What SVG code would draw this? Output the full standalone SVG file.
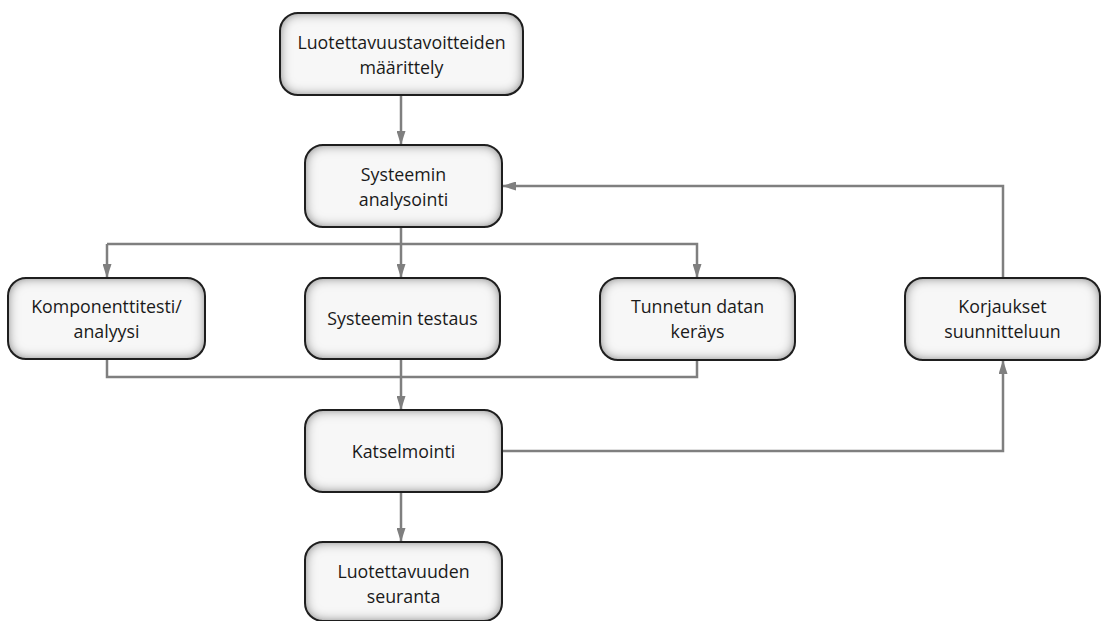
<svg xmlns="http://www.w3.org/2000/svg" width="1101" height="621" viewBox="0 0 1101 621">
  <style>
    .box { fill: #f7f7f7; filter: url(#inset); }
    .edge { fill: none; stroke: #1e1e1e; stroke-width: 2; }
    .label { font-family: "Open Sans", "Liberation Sans", sans-serif; font-size: 17.8px; fill: #1a1a1a; text-anchor: middle; }
    .conn { fill: none; stroke: #7f7f7f; stroke-width: 2.5; }
    .tip { marker-end: url(#arrow); }
  </style>
  <defs>
    <!-- soft inner shadow along the box edges -->
    <filter id="inset" x="-10%" y="-20%" width="120%" height="140%">
      <feFlood flood-color="#000" flood-opacity="1"/>
      <feComposite in2="SourceAlpha" operator="out"/>
      <feGaussianBlur stdDeviation="6"/>
      <feComposite in2="SourceAlpha" operator="in" result="shade"/>
      <feMerge>
        <feMergeNode in="SourceGraphic"/>
        <feMergeNode in="shade"/>
      </feMerge>
    </filter>
    <marker id="arrow" viewBox="0 0 14 9" refX="14" refY="4.5" markerWidth="14" markerHeight="9" markerUnits="userSpaceOnUse" orient="auto">
      <path d="M0,0 L14,4.5 L0,9 Z" fill="#7f7f7f"/>
    </marker>
  </defs>
  <rect width="1101" height="621" fill="#ffffff"/>

  <!-- connectors -->
  <g id="connectors">
    <path class="conn tip" d="M401,95 V145"/>
    <path class="conn" d="M401,227 V244"/>
    <path class="conn tip" d="M107,244 H697 V278"/>
    <path class="conn tip" d="M107,244 V278"/>
    <path class="conn tip" d="M401,244 V278"/>
    <path class="conn" d="M107,358 V377 H697 V358"/>
    <path class="conn tip" d="M401,358 V410"/>
    <path class="conn tip" d="M502,451 H1003 V360"/>
    <path class="conn tip" d="M1003,277 V186 H502"/>
    <path class="conn tip" d="M401,492 V542"/>
  </g>

  <g id="node-tavoitteet">
    <rect class="box" x="280" y="13" width="243" height="82" rx="18"/>
    <rect class="edge" x="280" y="13" width="243" height="82" rx="18"/>
    <text class="label" x="401.5" y="49">Luotettavuustavoitteiden</text>
    <text class="label" x="401.5" y="74">määrittely</text>
  </g>

  <g id="node-analysointi">
    <rect class="box" x="305" y="145" width="197" height="82" rx="18"/>
    <rect class="edge" x="305" y="145" width="197" height="82" rx="18"/>
    <text class="label" x="403.5" y="181">Systeemin</text>
    <text class="label" x="403.5" y="206">analysointi</text>
  </g>

  <g id="node-komponentti">
    <rect class="box" x="8" y="278" width="197" height="81" rx="18"/>
    <rect class="edge" x="8" y="278" width="197" height="81" rx="18"/>
    <text class="label" x="106.5" y="313">Komponenttitesti/</text>
    <text class="label" x="106.5" y="338">analyysi</text>
  </g>

  <g id="node-testaus">
    <rect class="box" x="305" y="278" width="195" height="81" rx="18"/>
    <rect class="edge" x="305" y="278" width="195" height="81" rx="18"/>
    <text class="label" x="402.5" y="325">Systeemin testaus</text>
  </g>

  <g id="node-data">
    <rect class="box" x="600" y="278" width="195" height="82" rx="18"/>
    <rect class="edge" x="600" y="278" width="195" height="82" rx="18"/>
    <text class="label" x="697.5" y="313">Tunnetun datan</text>
    <text class="label" x="697.5" y="338">keräys</text>
  </g>

  <g id="node-korjaukset">
    <rect class="box" x="905" y="278" width="195" height="82" rx="18"/>
    <rect class="edge" x="905" y="278" width="195" height="82" rx="18"/>
    <text class="label" x="1002.5" y="313">Korjaukset</text>
    <text class="label" x="1002.5" y="338">suunnitteluun</text>
  </g>

  <g id="node-katselmointi">
    <rect class="box" x="305" y="410" width="197" height="82" rx="18"/>
    <rect class="edge" x="305" y="410" width="197" height="82" rx="18"/>
    <text class="label" x="403.5" y="458">Katselmointi</text>
  </g>

  <g id="node-seuranta">
    <rect class="box" x="305" y="542" width="197" height="79" rx="18"/>
    <rect class="edge" x="305" y="542" width="197" height="79" rx="18"/>
    <text class="label" x="403.5" y="578">Luotettavuuden</text>
    <text class="label" x="403.5" y="603">seuranta</text>
  </g>
</svg>
